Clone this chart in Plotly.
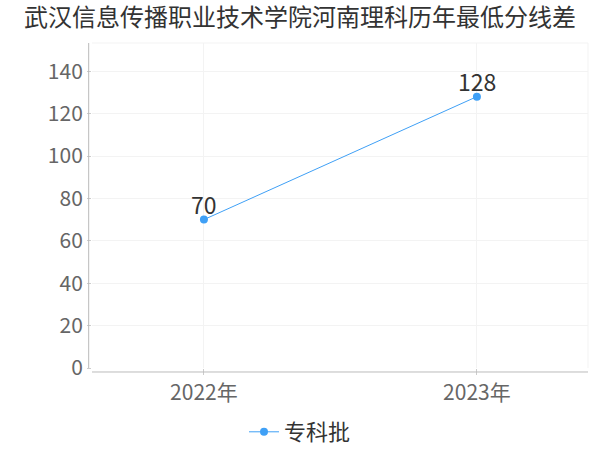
import plotly.graph_objects as go

years = ['2022年', '2023年']
diff_values = [70, 128]
series_name = '专科批'
title_text = '武汉信息传播职业技术学院河南理科历年最低分线差'

font_family = 'Noto Sans CJK SC'
blue = '#3fa0f6'

fig = go.Figure()
fig.add_trace(go.Scatter(
    x=years, y=diff_values, name=series_name,
    mode='lines+markers',
    line=dict(color=blue, width=1),
    marker=dict(color=blue, size=8),
    cliponaxis=False,
))

# value labels sit just above each point
for yr, v in zip(years, diff_values):
    fig.add_annotation(x=yr, y=v, text=str(v), showarrow=False,
                       yanchor='middle', yshift=16,
                       font=dict(size=23, color='#333333', family=font_family))

fig.update_layout(
    width=600, height=450,
    margin=dict(l=92, r=12, t=43, b=82, autoexpand=False),
    paper_bgcolor='white', plot_bgcolor='white',
    font=dict(family=font_family, color='#666666'),
    title=dict(text=title_text, x=0.5, xanchor='center', xref='container',
               y=1 - 18 / 450, yanchor='middle', yref='container',
               font=dict(size=24, color='#333333', family=font_family)),
    showlegend=True,
    legend=dict(orientation='h', x=0.5, xanchor='center', xref='container',
                y=1 - 432 / 450, yanchor='middle', yref='container',
                font=dict(size=22, color='#333333', family=font_family),
                itemwidth=30),
)

fig.update_xaxes(
    type='category', range=[-0.41, 1.407], automargin=False,
    showgrid=True, gridcolor='#f3f3f3', gridwidth=1,
    showline=False, zeroline=False,
    ticks='outside', ticklen=6, tickcolor='#cccccc',
    tickfont=dict(size=21, color='#666666'),
)
fig.update_yaxes(
    range=[0, 153.3], tickvals=[0, 20, 40, 60, 80, 100, 120, 140], automargin=False,
    showgrid=True, gridcolor='#f3f3f3', gridwidth=1,
    showline=False, zeroline=False,
    ticks='outside', ticklen=4, tickcolor='#cccccc',
    tickfont=dict(size=21, color='#666666'),
)

# offset axis lines
fig.add_shape(type='line', xref='paper', yref='paper', x0=-0.0067, x1=-0.0067, y0=0, y1=1,
              line=dict(color='#bbbbbb', width=1))
fig.add_shape(type='line', xref='paper', yref='paper', x0=0, x1=1, y0=-0.0123, y1=-0.0123,
              line=dict(color='#bbbbbb', width=1))
# right and top edge gridlines
fig.add_shape(type='line', xref='paper', yref='paper', x0=1, x1=1, y0=0, y1=1,
              line=dict(color='#f3f3f3', width=1))
fig.add_shape(type='line', xref='paper', yref='paper', x0=0, x1=1, y0=1, y1=1,
              line=dict(color='#f3f3f3', width=1))

# page body has a default 8px margin; remove it so the figure sits at 0,0
fig.write_html('out.html', config={'displayModeBar': False},
               post_script="document.body.style.margin='0';")
